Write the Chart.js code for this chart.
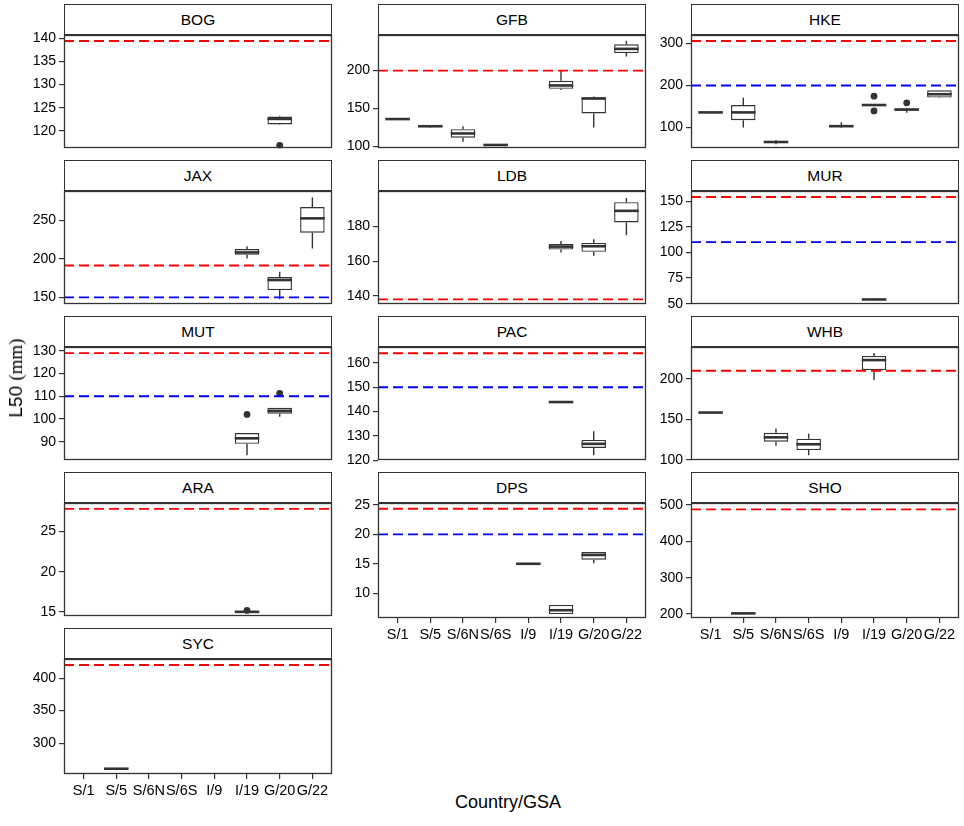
<!DOCTYPE html>
<html>
<head>
<meta charset="utf-8">
<script src="https://cdn.jsdelivr.net/npm/chart.js@4.4.1/dist/chart.umd.min.js"></script>
<style>
  body { margin: 0; background: #fff; width: 964px; height: 826px; position: relative; overflow: hidden;
         font-family: "Liberation Sans", Arial, sans-serif; }
  .strip { position: absolute; box-sizing: border-box; border: 1px solid #333; background: #fff;
           text-align: center; font-size: 15.5px; color: #000; }
  .panel { position: absolute; }
  #ytitle { position: absolute; left: 16px; top: 378px; transform: translate(-50%, -50%) rotate(-90deg);
            white-space: nowrap; font-size: 19px; color: #000; z-index: 5; }
  #ytitle .serif { font-family: "Liberation Serif", "Times New Roman", serif; }
  #xtitle { position: absolute; left: 508px; top: 802px; transform: translate(-50%, -50%);
            white-space: nowrap; font-size: 18px; color: #000; }
</style>
</head>
<body>
<div id="ytitle">L50 <span class="serif">(mm)</span></div>
<div id="xtitle">Country/GSA</div>
<script>
const categories = ['S/1', 'S/5', 'S/6N', 'S/6S', 'I/9', 'I/19', 'G/20', 'G/22'];
const species = ['BOG', 'GFB', 'HKE', 'JAX', 'LDB', 'MUR', 'MUT', 'PAC', 'WHB', 'ARA', 'DPS', 'SHO', 'SYC'];

// box stats: [GSA, lower whisker, Q1, median, Q3, upper whisker]
const boxBOG = [['G/20', 121.3, 121.4, 122.6, 123.1, 123.3]];
const boxGFB = [['S/1', 134.8, 135.3, 136, 136.6, 137.2], ['S/5', 124.5, 125.6, 126.5, 127.4, 128],
                ['S/6N', 106, 111.3, 117, 122.7, 126.6], ['S/6S', 101, 101.2, 101.8, 102.5, 102.8],
                ['I/19', 174.3, 176, 180.4, 186.5, 199.6], ['G/20', 124.8, 143.5, 163.1, 164.8, 165.7],
                ['G/22', 218.6, 223.1, 228.7, 234.8, 239.5]];
const boxHKE = [['S/1', 134.5, 135, 136, 137, 137.5], ['S/5', 100, 117.6, 136, 153.5, 170.5],
                ['S/6N', 60.5, 63.5, 65.8, 68, 70], ['I/9', 100, 102, 103.3, 105, 112.5],
                ['I/19', 151, 152, 153.5, 155, 156], ['G/20', 135, 140, 142.8, 145, 147],
                ['G/22', 170, 171.2, 179.1, 188.3, 189]];
const boxJAX = [['I/19', 200.5, 205.4, 208.5, 213, 216.5], ['G/20', 147.5, 159.5, 172.6, 176.4, 183.5],
                ['G/22', 213.5, 234.2, 252.9, 267.7, 279.9]];
const boxLDB = [['I/19', 165, 166.7, 168.4, 169.9, 171.6], ['G/20', 163.2, 165.4, 168.6, 170.5, 172.7],
                ['G/22', 175, 182.3, 189, 194, 196.4]];
const boxMUR = [['I/19', 53.3, 53.6, 54.1, 54.5, 54.8]];
const boxMUT = [['I/19', 84.1, 89.1, 91.5, 93.8, 93.8], ['G/20', 101, 102.3, 103.6, 105, 105]];
const boxPAC = [['I/19', 143.6, 143.7, 143.9, 144.1, 144.2], ['G/20', 122, 125, 126.7, 128.3, 131.9]];
const boxWHB = [['S/1', 157.8, 158, 158.4, 158.8, 159], ['S/6N', 117.6, 122.5, 127.9, 133.6, 138.8],
                ['S/6S', 106, 112.3, 119.4, 126.3, 132.3], ['I/19', 198.5, 210.6, 223, 228.1, 231.6]];
const boxARA = [['I/19', 14.9, 14.96, 15.02, 15.08, 15.15]];
const boxDPS = [['I/9', 14.85, 14.9, 15, 15.1, 15.15], ['I/19', 6.45, 6.45, 7.1, 8.0, 8.0],
                ['G/20', 15.1, 15.7, 16.5, 17.0, 17.0]];
const boxSHO = [['S/5', 199.5, 200.3, 201.7, 203, 203.5]];
const boxSYC = [['S/5', 259.8, 260.1, 260.6, 261.1, 261.4]];

// outliers: [GSA, value]
const outBOG = [['G/20', 116.9]];
const outHKE = [['I/19', 174.5], ['I/19', 139.4], ['G/20', 158.7]];
const outMUT = [['I/19', 102], ['G/20', 111.3]];
const outARA = [['I/19', 15.2]];

// reference lengths (dashed lines)
const redLine  = [139.4, 200, 305.4, 191.6, 138, 154.1, 129, 164, 209.9, 27.78, 24.36, 488, 420.2];
const blueLine = [null, null, 200, 150, null, 110, 110, 150, null, null, 20, null, null];

// y axis extents and tick labels per panel
const yMin = [116.2, 97, 50.1, 140.6, 135, 49.1, 81.7, 119.8, 99.3, 14.43, 5.78, 189, 252.5];
const yMax = [140.6, 246.5, 318.7, 288, 200.2, 159.5, 131.5, 166.4, 238.6, 28.46, 25.27, 504.4, 428.8];
const yTicks = [[120, 125, 130, 135, 140], [100, 150, 200], [100, 200, 300], [150, 200, 250],
                [140, 160, 180], [50, 75, 100, 125, 150], [90, 100, 110, 120, 130],
                [120, 130, 140, 150, 160], [100, 150, 200], [15, 20, 25], [10, 15, 20, 25],
                [200, 300, 400, 500], [300, 350, 400]];

const boxes = [boxBOG, boxGFB, boxHKE, boxJAX, boxLDB, boxMUR, boxMUT, boxPAC, boxWHB, boxARA, boxDPS, boxSHO, boxSYC];
const outliers = [outBOG, [], outHKE, [], [], [], outMUT, [], [], outARA, [], [], []];
const withXAxis = ['DPS', 'SHO', 'SYC'];

// layout
const colLeft = [64, 377.5, 691];
const plotW = 268, plotH = 116, stripH = 29.5, rowPitch = 156.1, firstStrip = 4;
const YW = 50, PADT = 10, PADB = 10, PADR = 4, XH = 30;

Chart.defaults.font.family = '"Liberation Sans", Arial, sans-serif';
Chart.defaults.color = '#000';

const ink = '#333333';

const boxParts = {
  id: 'boxParts',
  beforeDatasetsDraw(chart) {
    const ds = chart.data.datasets[0];
    const meta = chart.getDatasetMeta(0);
    const y = chart.scales.y;
    const ctx = chart.ctx;
    ctx.save();
    ctx.strokeStyle = ink;
    ctx.lineWidth = 1.4;
    ds.stats.forEach((b, i) => {
      const el = meta.data[i];
      ctx.beginPath();
      ctx.moveTo(el.x, y.getPixelForValue(b[1]));
      ctx.lineTo(el.x, y.getPixelForValue(b[2]));
      ctx.moveTo(el.x, y.getPixelForValue(b[4]));
      ctx.lineTo(el.x, y.getPixelForValue(b[5]));
      ctx.stroke();
    });
    ctx.restore();
  },
  afterDatasetsDraw(chart) {
    const ds = chart.data.datasets[0];
    const meta = chart.getDatasetMeta(0);
    const y = chart.scales.y;
    const ctx = chart.ctx;
    ctx.save();
    ctx.strokeStyle = ink;
    ctx.lineWidth = 2.6;
    ds.stats.forEach((b, i) => {
      const el = meta.data[i];
      const py = y.getPixelForValue(b[3]);
      ctx.beginPath();
      ctx.moveTo(el.x - el.width / 2, py);
      ctx.lineTo(el.x + el.width / 2, py);
      ctx.stroke();
    });
    ctx.restore();
  },
  afterDraw(chart) {
    const a = chart.chartArea;
    const ctx = chart.ctx;
    ctx.save();
    ctx.strokeStyle = ink;
    ctx.lineWidth = 1.3;
    ctx.strokeRect(Math.round(a.left) + 0.5, Math.round(a.top) + 0.5,
                   Math.round(a.right - a.left) - 1, Math.round(a.bottom - a.top) - 1);
    ctx.restore();
  }
};

function refLine(value, color) {
  return {
    type: 'line',
    data: [{ x: -0.6, y: value }, { x: 7.6, y: value }],
    borderColor: color,
    borderWidth: 1.9,
    borderDash: [10, 5],
    pointRadius: 0,
    order: 0
  };
}

species.forEach((name, idx) => {
  const row = Math.floor(idx / 3), col = idx % 3;
  const stripTop = firstStrip + row * rowPitch;
  const panelTop = stripTop + stripH;
  const showX = withXAxis.includes(name);

  const strip = document.createElement('div');
  strip.className = 'strip';
  strip.textContent = name;
  strip.style.left = Math.round(colLeft[col]) + 'px';
  strip.style.top = Math.round(stripTop) + 'px';
  strip.style.width = plotW + 'px';
  strip.style.height = Math.round(stripH + 1) + 'px';
  strip.style.lineHeight = Math.round(stripH - 1) + 'px';
  document.body.appendChild(strip);

  const w = YW + plotW + PADR;
  const h = PADT + plotH + (showX ? XH : PADB);
  const holder = document.createElement('div');
  holder.className = 'panel';
  holder.style.left = Math.round(colLeft[col] - YW) + 'px';
  holder.style.top = Math.round(panelTop - PADT) + 'px';
  const canvas = document.createElement('canvas');
  canvas.width = w; canvas.height = h;
  canvas.style.width = w + 'px'; canvas.style.height = h + 'px';
  holder.appendChild(canvas);
  document.body.appendChild(holder);

  const stats = boxes[idx];
  const datasets = [{
    type: 'bar',
    data: stats.map(b => ({ x: categories.indexOf(b[0]), y: [b[2], b[4]] })),
    stats: stats,
    backgroundColor: '#ffffff',
    borderColor: ink,
    borderWidth: 1.4,
    borderSkipped: false,
    barPercentage: 0.75,
    categoryPercentage: 1,
    order: 2
  }, {
    type: 'scatter',
    data: outliers[idx].map(o => ({ x: categories.indexOf(o[0]), y: o[1] })),
    pointRadius: 3.4,
    pointBackgroundColor: ink,
    pointBorderWidth: 0,
    order: 1
  }];
  datasets.push(refLine(redLine[idx], '#ff0000'));
  if (blueLine[idx] !== null) datasets.push(refLine(blueLine[idx], '#0000ff'));

  new Chart(canvas, {
    type: 'bar',
    data: { datasets: datasets },
    options: {
      responsive: false,
      animation: false,
      layout: { padding: { top: PADT, right: PADR, bottom: showX ? 0 : PADB, left: 0 } },
      plugins: { legend: { display: false }, tooltip: { enabled: false } },
      scales: {
        x: {
          type: 'linear',
          min: -0.6,
          max: 7.6,
          offset: false,
          display: showX,
          afterBuildTicks: scale => { scale.ticks = categories.map((c, i) => ({ value: i })); },
          afterFit: scale => { if (showX) scale.height = XH; },
          grid: { display: true, drawOnChartArea: false, drawTicks: true, tickLength: 5, lineWidth: 1.2, color: ink, offset: false },
          border: { display: false },
          ticks: {
            callback: v => categories[v],
            autoSkip: false, maxRotation: 0, minRotation: 0,
            padding: 3,
            font: { size: 14.5 },
            color: '#000'
          }
        },
        y: {
          type: 'linear',
          min: yMin[idx],
          max: yMax[idx],
          afterBuildTicks: scale => { scale.ticks = yTicks[idx].map(v => ({ value: v })); },
          afterFit: scale => { scale.width = YW; },
          grid: { display: true, drawOnChartArea: false, drawTicks: true, tickLength: 5, lineWidth: 1.2, color: ink },
          border: { display: false },
          ticks: { padding: 3, font: { size: 14 }, color: '#000' }
        }
      }
    },
    plugins: [boxParts]
  });
});
</script>
</body>
</html>
